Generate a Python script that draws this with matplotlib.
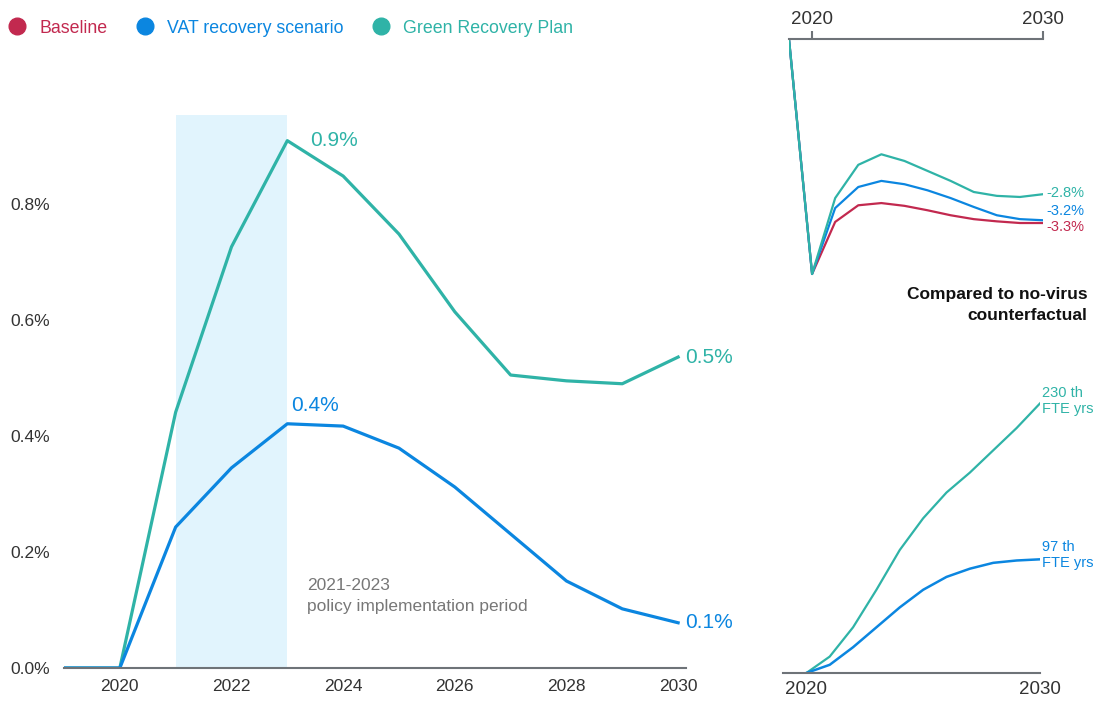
import matplotlib.pyplot as plt
from matplotlib.lines import Line2D

plt.rcParams['font.family'] = ['Liberation Sans', 'DejaVu Sans']

RED = "#c2294f"
BLUE = "#0b86e0"
GREEN = "#2fb3a7"
GREY = "#6e7378"
TXT = "#333333"

years = list(range(2019, 2031))

# main chart: GDP difference vs baseline (%)
green_main = [0, 0, 0.441, 0.726, 0.909, 0.848, 0.748, 0.614, 0.505, 0.495, 0.490, 0.536]
blue_main = [0, 0, 0.243, 0.345, 0.421, 0.417, 0.379, 0.312, 0.231, 0.150, 0.102, 0.078]
main_yticks = [0.0, 0.2, 0.4, 0.6, 0.8]
main_xticks = [2020, 2022, 2024, 2026, 2028, 2030]

# top inset: compared to no-virus counterfactual (%)
red_top = [0, -4.24, -3.30, -3.00, -2.96, -3.01, -3.09, -3.18, -3.25, -3.29, -3.32, -3.32]
blue_top = [0, -4.24, -3.05, -2.67, -2.56, -2.62, -2.73, -2.87, -3.03, -3.18, -3.25, -3.27]
green_top = [0, -4.24, -2.87, -2.27, -2.08, -2.20, -2.38, -2.56, -2.76, -2.83, -2.85, -2.80]

# bottom inset: cumulative jobs (thousand FTE years)
years_jobs = list(range(2020, 2031))
green_jobs = [0, 14, 39, 71, 105, 132, 154, 171, 190, 209, 230]
blue_jobs = [0, 7, 22, 39, 56, 71, 82, 89, 94, 96, 97]

fig = plt.figure(figsize=(10.94, 7.02), dpi=100)

# ---- main axes
ax = fig.add_axes([0.0585, 0.0484, 0.5685, 0.7876])
ax.axvspan(2021, 2023, color="#e1f4fd", lw=0, zorder=0)
ax.plot(years, green_main, color=GREEN, lw=2.3, solid_joinstyle="round")
ax.plot(years, blue_main, color=BLUE, lw=2.3, solid_joinstyle="round")
ax.set_xlim(2019, 2030.14)
ax.set_ylim(0, 0.953)
ax.set_yticks(main_yticks)
ax.set_yticklabels([f"{v:.1f}%" for v in main_yticks])
ax.set_xticks(main_xticks)
ax.set_xticklabels([str(y) for y in main_xticks])
ax.tick_params(axis="both", length=0, labelsize=12.5, colors=TXT)
ax.tick_params(axis="y", pad=10)
ax.tick_params(axis="x", pad=8)
for s in ["left", "right", "top"]:
    ax.spines[s].set_visible(False)
ax.spines["bottom"].set_color(GREY)
ax.spines["bottom"].set_linewidth(1.5)

ax.text(2023.4, 0.91, "0.9%", color=GREEN, fontsize=15, va="center", ha="left")
ax.text(2023.07, 0.453, "0.4%", color=BLUE, fontsize=15, va="center", ha="left")
ax.text(2030.12, green_main[-1], "0.5%", color=GREEN, fontsize=15, va="center", ha="left")
ax.text(2030.12, blue_main[-1], "0.1%", color=BLUE, fontsize=15, va="center", ha="left")
ax.text(2023.35, 0.124, "2021-2023\npolicy implementation period", color="#777777",
        fontsize=12.5, va="center", ha="left", linespacing=1.45)

# ---- top inset
ax2 = fig.add_axes([0.7212, 0.601, 0.2322, 0.3434])
ax2.plot(years, red_top, color=RED, lw=1.6)
ax2.plot(years, blue_top, color=BLUE, lw=1.6)
ax2.plot(years, green_top, color=GREEN, lw=1.6)
ax2.set_xlim(2019, 2030)
ax2.set_ylim(-4.35, 0)
ax2.xaxis.tick_top()
ax2.set_xticks([2020, 2030])
ax2.set_xticklabels(["2020", "2030"])
ax2.set_yticks([])
ax2.tick_params(axis="x", length=6, width=1.5, color=GREY, labelsize=13.5, colors=TXT, pad=2)
for s in ["left", "right", "bottom"]:
    ax2.spines[s].set_visible(False)
ax2.spines["top"].set_color(GREY)
ax2.spines["top"].set_linewidth(1.5)
for y, col, lab in [(-2.77, GREEN, "-2.8%"), (-3.10, BLUE, "-3.2%"), (-3.39, RED, "-3.3%")]:
    ax2.text(2030.15, y, lab, color=col, fontsize=10.5, va="center", ha="left")

fig.text(0.994, 0.5655, "Compared to no-virus\ncounterfactual", fontsize=12.5, fontweight="bold",
         ha="right", va="center", color="#111111", linespacing=1.45)

# ---- bottom inset
ax3 = fig.add_axes([0.7157, 0.0413, 0.2349, 0.4174])
ax3.plot(years_jobs, green_jobs, color=GREEN, lw=1.6)
ax3.plot(years_jobs, blue_jobs, color=BLUE, lw=1.8)
ax3.set_xlim(2019, 2030)
ax3.set_ylim(0, 250)
ax3.set_xticks([2020, 2030])
ax3.set_xticklabels(["2020", "2030"])
ax3.set_yticks([])
ax3.tick_params(axis="x", length=0, labelsize=13.5, colors=TXT, pad=6)
for s in ["left", "right", "top"]:
    ax3.spines[s].set_visible(False)
ax3.spines["bottom"].set_color(GREY)
ax3.spines["bottom"].set_linewidth(1.5)
ax3.text(2030.1, green_jobs[-1] + 2, "230 th\nFTE yrs", color=GREEN, fontsize=10.5,
         va="center", ha="left", linespacing=1.15)
ax3.text(2030.1, blue_jobs[-1] + 3.5, "97 th\nFTE yrs", color=BLUE, fontsize=10.5,
         va="center", ha="left", linespacing=1.15)

# ---- legend
names = ["Baseline", "VAT recovery scenario", "Green Recovery Plan"]
cols = [RED, BLUE, GREEN]
handles = [Line2D([], [], ls="", marker="o", markersize=12, color=c) for c in cols]
fig.legend(handles, names, loc="center left", bbox_to_anchor=(-0.009, 0.96), ncol=3,
           frameon=False, labelcolor=cols, fontsize=12.8, handletextpad=0.65,
           columnspacing=1.5, handlelength=1.2)

fig.savefig("out.png", dpi=100)
